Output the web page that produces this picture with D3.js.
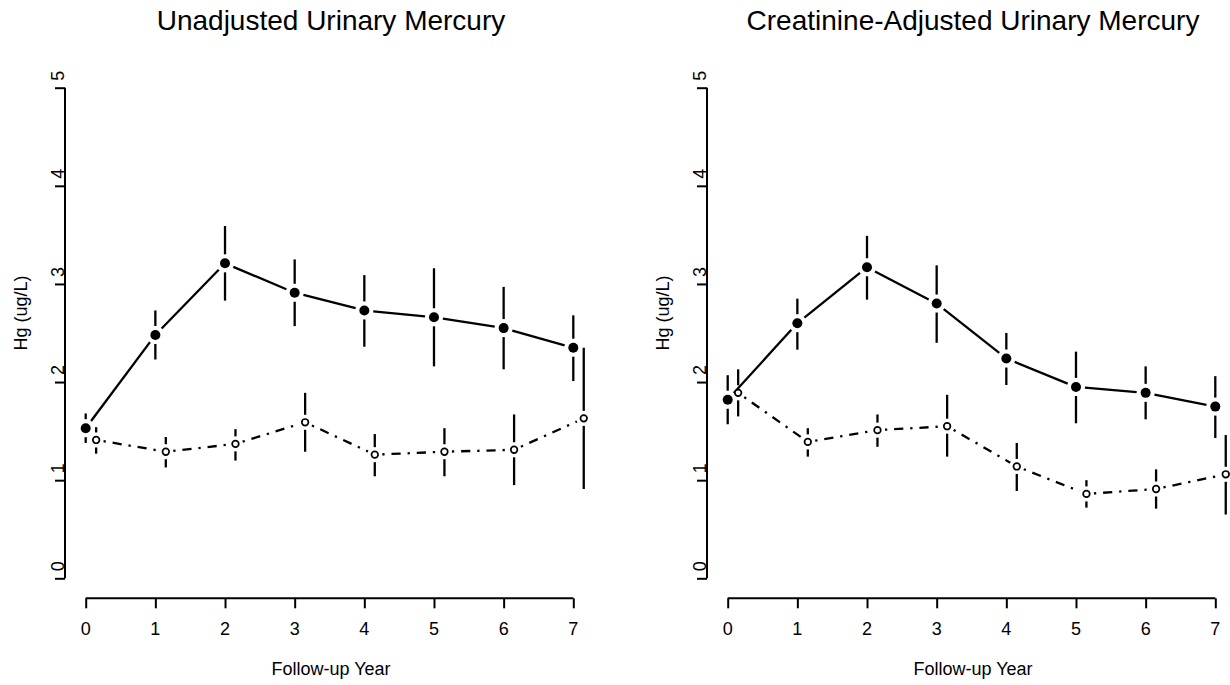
<!DOCTYPE html>
<html>
<head>
<meta charset="utf-8">
<script src="https://cdn.jsdelivr.net/npm/d3@7"></script>
<style>
  body { margin: 0; background: #fff; }
  text { font-family: "Liberation Sans", Arial, sans-serif; fill: #000; }
</style>
</head>
<body>
<div id="chart"></div>
<script>
// follow-up years and the small x offset used for the control group
var years = [0, 1, 2, 3, 4, 5, 6, 7];
var controlShift = 0.15;
var yTicks = [0, 1, 2, 3, 4, 5];

var titles = ["Unadjusted Urinary Mercury", "Creatinine-Adjusted Urinary Mercury"];
var xLabel = "Follow-up Year";
var yLabel = "Hg (ug/L)";

// unadjusted: exposed (filled) and control (open)
var unadjExposed   = [1.53, 2.48, 3.21, 2.91, 2.73, 2.66, 2.55, 2.35];
var unadjExposedLo = [1.38, 2.23, 2.83, 2.57, 2.36, 2.16, 2.13, 2.01];
var unadjExposedHi = [1.68, 2.73, 3.59, 3.25, 3.09, 3.16, 2.97, 2.68];
var unadjControl   = [1.41, 1.29, 1.37, 1.59, 1.26, 1.29, 1.31, 1.63];
var unadjControlLo = [1.27, 1.13, 1.20, 1.29, 1.04, 1.04, 0.95, 0.91];
var unadjControlHi = [1.54, 1.44, 1.52, 1.89, 1.47, 1.53, 1.67, 2.35];

// creatinine-adjusted
var adjExposed   = [1.82, 2.60, 3.17, 2.80, 2.24, 1.95, 1.89, 1.75];
var adjExposedLo = [1.57, 2.33, 2.84, 2.40, 1.97, 1.58, 1.62, 1.43];
var adjExposedHi = [2.07, 2.85, 3.49, 3.19, 2.50, 2.31, 2.16, 2.06];
var adjControl   = [1.89, 1.39, 1.51, 1.55, 1.14, 0.86, 0.91, 1.06];
var adjControlLo = [1.65, 1.24, 1.34, 1.24, 0.89, 0.72, 0.71, 0.65];
var adjControlHi = [2.13, 1.53, 1.67, 1.87, 1.38, 1.00, 1.11, 1.46];

var width = 1230;
var height = 685;
var panelShift = 642;

var svg = d3.select("#chart")
    .append("svg")
    .attr("width", width)
    .attr("height", height);

var x = d3.scaleLinear().domain([0, 7]).range([85.7, 573.3]);
var y = d3.scaleLinear().domain([0, 5]).range([578.3, 87.7]);

var lw = 2.3;

function makeSeries(est, lo, hi, shift) {
    return years.map(function(yr, i) {
        return { x: yr + shift, est: est[i], lo: lo[i], hi: hi[i] };
    });
}

// segment between two points, cut back by a gap at the given ends (like R type="b")
function gapSegment(g, x1, y1, x2, y2, gap1, gap2, dash) {
    var dx = x2 - x1, dy = y2 - y1;
    var len = Math.sqrt(dx * dx + dy * dy);
    if (len <= gap1 + gap2) return;
    var ux = dx / len, uy = dy / len;
    g.append("line")
        .attr("x1", x1 + ux * gap1).attr("y1", y1 + uy * gap1)
        .attr("x2", x2 - ux * gap2).attr("y2", y2 - uy * gap2)
        .attr("stroke", "#000")
        .attr("stroke-width", lw)
        .attr("stroke-dasharray", dash || null);
}

function drawSeries(g, data, filled) {
    var gap = filled ? 9 : 7.5;
    var dash = filled ? null : "2.3,6.9,9.2,6.9";
    // error bars, broken around the estimate
    data.forEach(function(d) {
        var px = x(d.x), py = y(d.est);
        gapSegment(g, px, y(d.hi), px, py, 0, gap);
        gapSegment(g, px, py, px, y(d.lo), gap, 0);
    });
    // connecting line
    for (var i = 1; i < data.length; i++) {
        gapSegment(g, x(data[i - 1].x), y(data[i - 1].est), x(data[i].x), y(data[i].est), gap, gap, dash);
    }
    g.selectAll("circle." + (filled ? "f" : "o"))
        .data(data).enter()
        .append("circle")
        .attr("class", filled ? "f" : "o")
        .attr("cx", function(d) { return x(d.x); })
        .attr("cy", function(d) { return y(d.est); })
        .attr("r", filled ? 5 : 3.3)
        .attr("fill", filled ? "#000" : "#fff")
        .attr("stroke", "#000")
        .attr("stroke-width", filled ? 0 : 1.7);
}

function drawPanel(offset, title, exposed, control) {
    var g = svg.append("g").attr("transform", "translate(" + offset + ",0)");

    g.append("text")
        .attr("x", 331).attr("y", 30)
        .attr("text-anchor", "middle")
        .style("font-size", "28px")
        .text(title);

    // y axis, R style: labels parallel to the axis
    var yAxis = d3.axisLeft(y).tickValues(yTicks).tickSize(10).tickFormat("");
    var gy = g.append("g").attr("transform", "translate(65,0)").call(yAxis);
    gy.select(".domain").attr("d", "M0," + y(0) + "V" + y(5));
    gy.selectAll("path, line").attr("stroke", "#000").attr("stroke-width", 2);
    g.selectAll("text.ytick")
        .data(yTicks).enter()
        .append("text")
        .attr("class", "ytick")
        .attr("transform", function(d) { return "translate(63.5," + (y(d) - 12) + ") rotate(-90)"; })
        .attr("text-anchor", "middle")
        .style("font-size", "18px")
        .text(function(d) { return d; });

    // x axis
    var xAxis = d3.axisBottom(x).tickValues(years).tickSize(10).tickFormat("");
    var gx = g.append("g").attr("transform", "translate(0,598.3)").call(xAxis);
    gx.select(".domain").attr("d", "M" + x(0) + ",0H" + x(7));
    gx.selectAll("path, line").attr("stroke", "#000").attr("stroke-width", 2);
    g.selectAll("text.xtick")
        .data(years).enter()
        .append("text")
        .attr("class", "xtick")
        .attr("x", function(d) { return x(d); })
        .attr("y", 635)
        .attr("text-anchor", "middle")
        .style("font-size", "18px")
        .text(function(d) { return d; });

    g.append("text")
        .attr("x", 331).attr("y", 675)
        .attr("text-anchor", "middle")
        .style("font-size", "18px")
        .text(xLabel);

    g.append("text")
        .attr("transform", "translate(27,313) rotate(-90)")
        .attr("text-anchor", "middle")
        .style("font-size", "18px")
        .text(yLabel);

    drawSeries(g, exposed, true);
    drawSeries(g, control, false);
}

drawPanel(0, titles[0],
    makeSeries(unadjExposed, unadjExposedLo, unadjExposedHi, 0),
    makeSeries(unadjControl, unadjControlLo, unadjControlHi, controlShift));

drawPanel(panelShift, titles[1],
    makeSeries(adjExposed, adjExposedLo, adjExposedHi, 0),
    makeSeries(adjControl, adjControlLo, adjControlHi, controlShift));
</script>
</body>
</html>
